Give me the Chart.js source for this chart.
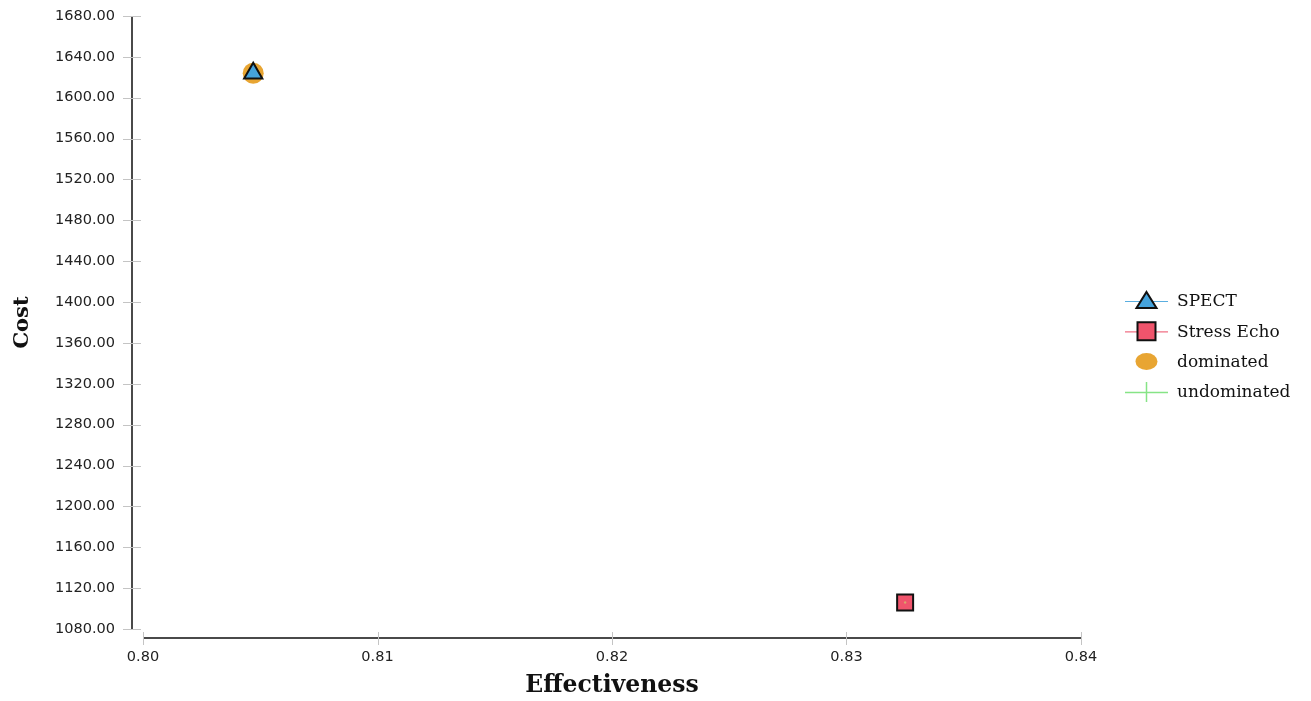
<!DOCTYPE html>
<html>
<head>
<meta charset="utf-8">
<script src="https://cdn.jsdelivr.net/npm/chart.js@4/dist/chart.umd.min.js"></script>
<style>
  html, body { margin: 0; padding: 0; background: #fff; }
  #wrap { width: 1311px; height: 701px; }
</style>
</head>
<body>
<div id="wrap"><canvas id="ceChart" width="1311" height="701"></canvas></div>
<script>
// strategies and their (effectiveness, cost)
const strategies = ['SPECT', 'Stress Echo'];
const effectiveness = [0.8047, 0.8325];
const cost = [1624, 1106];
const dominatedIdx = [0];
const undominatedIdx = [1];

const xTicks = [0.80, 0.81, 0.82, 0.83, 0.84];
const yTicks = [1080, 1120, 1160, 1200, 1240, 1280, 1320, 1360, 1400, 1440, 1480, 1520, 1560, 1600, 1640, 1680];

const legendItems = [
    { label: 'SPECT', shape: 'triangle', fill: '#45a3dc', line: '#5aaee0' },
    { label: 'Stress Echo', shape: 'rect', fill: '#f0546c', line: '#f07085' },
    { label: 'dominated', shape: 'ellipse', fill: '#e8a532', line: null },
    { label: 'undominated', shape: 'cross', fill: '#86e486', line: '#86e486' }
];

const pt = (i) => ({ x: effectiveness[i], y: cost[i] });

function drawShape(ctx, shape, x, y, fill) {
    ctx.save();
    ctx.fillStyle = fill;
    ctx.strokeStyle = '#111';
    ctx.lineWidth = 2;
    ctx.beginPath();
    if (shape === 'triangle') {
        ctx.moveTo(x, y - 9);
        ctx.lineTo(x + 10, y + 7);
        ctx.lineTo(x - 10, y + 7);
        ctx.closePath();
        ctx.fill(); ctx.stroke();
    } else if (shape === 'rect') {
        ctx.rect(x - 9, y - 9, 18, 18);
        ctx.fill(); ctx.stroke();
    } else if (shape === 'ellipse') {
        ctx.ellipse(x, y, 11, 8.5, 0, 0, Math.PI * 2);
        ctx.fill();
    }
    ctx.restore();
}

const axesAndLegend = {
    id: 'axesAndLegend',
    afterDraw(chart) {
        const ctx = chart.ctx;
        const a = chart.chartArea;
        const xs = chart.scales.x, ys = chart.scales.y;
        ctx.save();
        // detached axis lines
        ctx.strokeStyle = '#4a4a4a';
        ctx.lineWidth = 2;
        ctx.beginPath();
        ctx.moveTo(a.left - 11, a.top);
        ctx.lineTo(a.left - 11, a.bottom);
        ctx.moveTo(a.left, a.bottom + 9);
        ctx.lineTo(a.right, a.bottom + 9);
        ctx.stroke();
        // tick marks
        ctx.strokeStyle = '#c4c4c4';
        ctx.lineWidth = 1;
        ctx.beginPath();
        yTicks.forEach(v => {
            const y = Math.round(ys.getPixelForValue(v)) + 0.5;
            ctx.moveTo(a.left - 20, y);
            ctx.lineTo(a.left - 2, y);
        });
        xTicks.forEach(v => {
            const x = Math.round(xs.getPixelForValue(v)) + 0.5;
            ctx.moveTo(x, a.bottom + 3);
            ctx.lineTo(x, a.bottom + 16);
        });
        ctx.stroke();

        // legend
        const lx = a.right + 44, top = 301, step = 30.3;
        legendItems.forEach((it, i) => {
            const y = top + i * step;
            if (it.shape === 'cross') {
                ctx.strokeStyle = it.line;
                ctx.lineWidth = 1.5;
                ctx.beginPath();
                ctx.moveTo(lx, y + 0.5);
                ctx.lineTo(lx + 43, y + 0.5);
                ctx.moveTo(lx + 21.5, y - 10);
                ctx.lineTo(lx + 21.5, y + 10);
                ctx.stroke();
            } else {
                if (it.line) {
                    ctx.strokeStyle = it.line;
                    ctx.lineWidth = 1.2;
                    ctx.beginPath();
                    ctx.moveTo(lx, y + 0.5);
                    ctx.lineTo(lx + 43, y + 0.5);
                    ctx.stroke();
                }
                drawShape(ctx, it.shape, lx + 21.5, y, it.fill);
            }
            ctx.fillStyle = '#111';
            ctx.font = '17px "DejaVu Serif"';
            ctx.textBaseline = 'middle';
            ctx.fillText(it.label, lx + 52, y + 1);
        });
        ctx.restore();
    }
};

new Chart(document.getElementById('ceChart').getContext('2d'), {
    type: 'scatter',
    data: {
        datasets: [
            {
                label: 'dominated',
                data: dominatedIdx.map(pt),
                pointStyle: 'circle',
                pointRadius: 10.5,
                backgroundColor: '#e8a532',
                borderColor: '#e8a532',
                borderWidth: 0,
                order: 4
            },
            {
                label: strategies[0],
                data: [pt(0)],
                pointStyle: 'triangle',
                pointRadius: 10.5,
                backgroundColor: '#45a3dc',
                borderColor: '#111',
                borderWidth: 2,
                order: 2
            },
            {
                label: strategies[1],
                data: [pt(1)],
                pointStyle: 'rect',
                pointRadius: 11.3,
                backgroundColor: '#f0546c',
                borderColor: '#111',
                borderWidth: 2,
                order: 3
            },
            {
                label: 'undominated',
                data: undominatedIdx.map(pt),
                pointStyle: 'circle',
                pointRadius: 1.2,
                backgroundColor: '#d9a56a',
                borderColor: '#d9a56a',
                borderWidth: 0,
                order: 1
            }
        ]
    },
    plugins: [axesAndLegend],
    options: {
        responsive: false,
        animation: false,
        layout: { padding: { top: 16, right: 230, left: 0, bottom: 0 } },
        plugins: {
            legend: { display: false },
            tooltip: { enabled: false }
        },
        scales: {
            x: {
                type: 'linear',
                min: 0.80,
                max: 0.84,
                afterBuildTicks(scale) { scale.ticks = xTicks.map(v => ({ value: v })); },
                afterFit(scale) {
                    scale.height = 72;
                    scale.paddingLeft = 0;
                    scale.paddingRight = 0;
                },
                grid: { display: false, drawTicks: false },
                border: { display: false },
                ticks: {
                    padding: 20,
                    color: '#222',
                    font: { family: 'DejaVu Sans', size: 14.5 },
                    callback: v => v.toFixed(2)
                },
                title: {
                    display: true,
                    text: 'Effectiveness',
                    color: '#111',
                    font: { family: 'DejaVu Serif', size: 23.5, weight: 'bold' },
                    padding: { top: 0, bottom: 1 }
                }
            },
            y: {
                type: 'linear',
                min: 1080,
                max: 1680,
                afterBuildTicks(scale) { scale.ticks = yTicks.map(v => ({ value: v })); },
                afterFit(scale) {
                    scale.width = 143;
                    scale.paddingTop = 0;
                    scale.paddingBottom = 0;
                },
                grid: { display: false, drawTicks: false },
                border: { display: false },
                ticks: {
                    padding: 28,
                    color: '#222',
                    font: { family: 'DejaVu Sans', size: 14.5 },
                    callback: v => v.toFixed(2)
                },
                title: {
                    display: true,
                    text: 'Cost',
                    color: '#111',
                    font: { family: 'DejaVu Serif', size: 21, weight: 'bold' },
                    padding: { top: 10, bottom: 0 }
                }
            }
        }
    }
});
</script>
</body>
</html>
